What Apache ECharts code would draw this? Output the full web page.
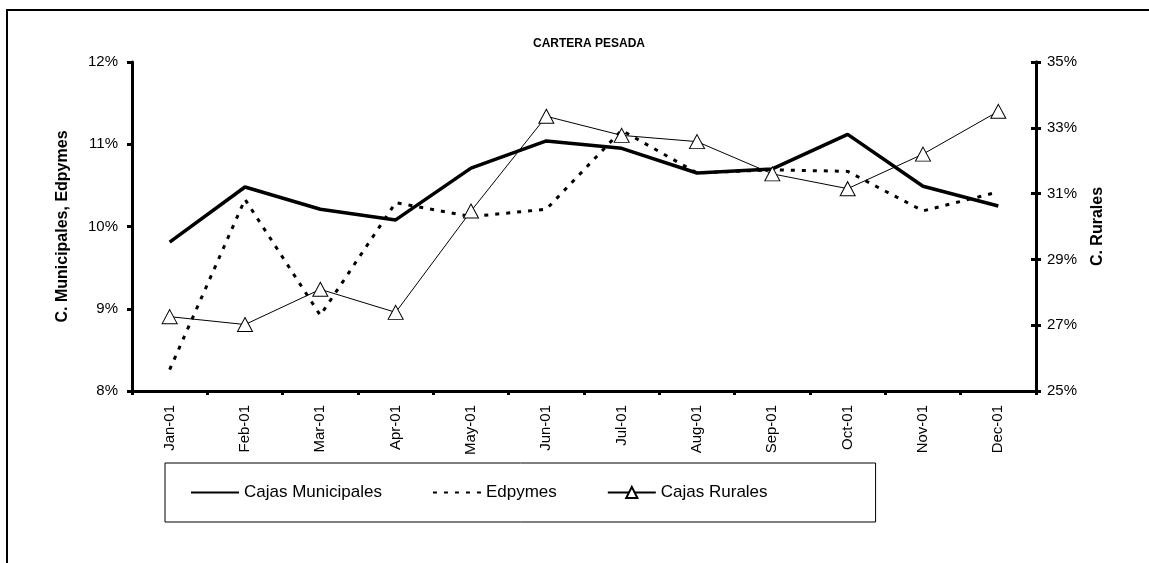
<!DOCTYPE html>
<html>
<head>
<meta charset="utf-8">
<script src="https://cdn.jsdelivr.net/npm/echarts@6/dist/echarts.min.js"></script>
<style>
  html, body { margin: 0; padding: 0; background: #fff; }
  #frame {
    position: absolute; left: 6px; top: 9px; width: 1200px; height: 600px;
    border-left: 2px solid #000; border-top: 2px solid #000;
  }
  #chart { position: absolute; left: 0; top: 0; width: 1149px; height: 563px; }
</style>
</head>
<body>
<div id="frame"></div>
<div id="chart"></div>
<script>
const months = ['Jan-01', 'Feb-01', 'Mar-01', 'Apr-01', 'May-01', 'Jun-01',
  'Jul-01', 'Aug-01', 'Sep-01', 'Oct-01', 'Nov-01', 'Dec-01']

// left axis (%)
const cajasMunicipales = [9.81, 10.48, 10.21, 10.08, 10.71, 11.04, 10.95, 10.65, 10.70, 11.12, 10.49, 10.25]
const edpymes = [8.26, 10.33, 8.92, 10.29, 10.12, 10.21, 11.17, 10.65, 10.69, 10.67, 10.19, 10.42]
// right axis (%)
const cajasRurales = [27.26, 27.02, 28.09, 27.39, 30.47, 33.35, 32.77, 32.58, 31.60, 31.15, 32.20, 33.50]

const font = 'Arial, "Liberation Sans", sans-serif'

const chart = echarts.init(document.getElementById('chart'))

const yBase = {
  type: 'value',
  axisLine: { show: true, lineStyle: { color: '#000', width: 3 } },
  axisTick: { show: true, length: 5, lineStyle: { color: '#000', width: 3 } },
  splitLine: { show: false },
  nameLocation: 'middle',
  nameRotate: 90,
  nameTextStyle: { fontFamily: font, fontWeight: 'bold', fontSize: 16, color: '#000' }
}

chart.setOption({
  animation: false,
  title: {
    text: 'CARTERA PESADA',
    left: 584,
    textAlign: 'center',
    top: 33,
    textStyle: { fontFamily: font, fontWeight: 'bold', fontSize: 12, color: '#000' }
  },
  grid: { left: 132, right: 113, top: 62, bottom: 172 },
  legend: {
    left: 165,
    top: 463,
    orient: 'horizontal',
    padding: [21, 108, 21, 25],
    itemGap: 50,
    itemWidth: 48,
    itemHeight: 14,
    borderColor: '#000',
    borderWidth: 1,
    textStyle: { fontFamily: font, fontSize: 17, color: '#000' },
    data: [
      { name: 'Cajas Municipales', itemStyle: { opacity: 0 } },
      { name: 'Edpymes', itemStyle: { opacity: 0 } },
      { name: 'Cajas Rurales' }
    ]
  },
  xAxis: {
    type: 'category',
    data: months,
    boundaryGap: true,
    axisLine: { lineStyle: { color: '#000', width: 3 } },
    axisTick: { show: true, length: 4, lineStyle: { color: '#000', width: 3 } },
    axisLabel: { rotate: 90, fontFamily: font, fontSize: 15, color: '#000', margin: 14 }
  },
  yAxis: [
    Object.assign({}, yBase, {
      min: 8, max: 12, interval: 1,
      name: 'C. Municipales, Edpymes',
      nameGap: 61,
      axisLabel: { formatter: '{value}%', fontFamily: font, fontSize: 15, color: '#000', margin: 14 }
    }),
    Object.assign({}, yBase, {
      min: 25, max: 35, interval: 2,
      position: 'right',
      name: 'C. Rurales',
      nameGap: 54,
      axisLabel: { formatter: '{value}%', fontFamily: font, fontSize: 15, color: '#000', margin: 11 }
    }),
    Object.assign({}, yBase, {
      min: 25, max: 35, interval: 2,
      position: 'right',
      axisTick: { show: true, inside: true, length: 5, lineStyle: { color: '#000', width: 3 } },
      axisLabel: { show: false }
    })
  ],
  series: [
    {
      name: 'Cajas Municipales',
      type: 'line',
      yAxisIndex: 0,
      data: cajasMunicipales,
      symbol: 'none',
      lineStyle: { color: '#000', width: 3.5 },
      itemStyle: { color: '#000' }
    },
    {
      name: 'Edpymes',
      type: 'line',
      yAxisIndex: 0,
      data: edpymes,
      symbol: 'none',
      lineStyle: { color: '#000', width: 3, type: [4, 7] },
      itemStyle: { color: '#000' }
    },
    {
      name: 'Cajas Rurales',
      type: 'line',
      yAxisIndex: 1,
      data: cajasRurales,
      symbol: 'triangle',
      symbolSize: [15, 14],
      showAllSymbol: true,
      lineStyle: { color: '#000', width: 1 },
      itemStyle: { color: '#fff', borderColor: '#000', borderWidth: 1 },
      z: 3
    }
  ]
})
</script>
</body>
</html>
